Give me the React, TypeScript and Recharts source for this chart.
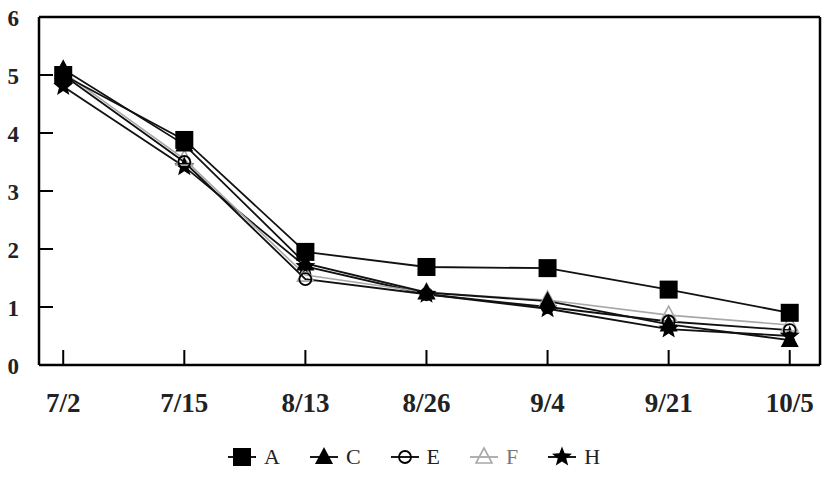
// Seasonal decline of five series (A, C, E, F, H), line chart with marker shapes
import { LineChart, Line, XAxis, YAxis, ReferenceLine } from 'recharts'

const categories = ['7/2', '7/15', '8/13', '8/26', '9/4', '9/21', '10/5']
const seriesA = [5.0, 3.88, 1.95, 1.69, 1.67, 1.3, 0.9]
const seriesC = [5.1, 3.8, 1.75, 1.25, 1.1, 0.7, 0.43]
const seriesE = [5.0, 3.5, 1.48, 1.22, 1.0, 0.75, 0.6]
const seriesF = [5.05, 3.55, 1.55, 1.25, 1.12, 0.86, 0.69]
const seriesH = [4.8, 3.42, 1.7, 1.22, 0.97, 0.62, 0.5]
const yTicks = [0, 1, 2, 3, 4, 5, 6]

const data = categories.map((c, i) => ({
  idx: i,
  label: c,
  A: seriesA[i],
  C: seriesC[i],
  E: seriesE[i],
  F: seriesF[i],
  H: seriesH[i],
}))

const FONT = '"Liberation Serif", "DejaVu Serif", serif'
const GRAY = '#a8a8a8'

type Shape = 'square' | 'tri' | 'circle' | 'otri' | 'star'

// 마커 모양 하나 그리기 (차트와 범례 공용)
function marker(shape: Shape, cx: number, cy: number, key?: any) {
  if (shape === 'square') {
    return <rect key={key} x={cx - 9} y={cy - 9} width={18} height={18} fill="#000" />
  }
  if (shape === 'tri') {
    return <polygon key={key} points={`${cx},${cy - 10} ${cx + 9},${cy + 7} ${cx - 9},${cy + 7}`} fill="#000" />
  }
  if (shape === 'otri') {
    return (
      <polygon key={key} points={`${cx},${cy - 9} ${cx + 8},${cy + 6} ${cx - 8},${cy + 6}`}
        fill="none" stroke={GRAY} strokeWidth={1.6} />
    )
  }
  if (shape === 'circle') {
    return <circle key={key} cx={cx} cy={cy} r={6} fill="none" stroke="#000" strokeWidth={1.8} />
  }
  // star
  const pts: string[] = []
  for (let k = 0; k < 10; k++) {
    const r = k % 2 === 0 ? 10.5 : 4.5
    const a = -Math.PI / 2 + (k * Math.PI) / 5
    pts.push(`${cx + r * Math.cos(a)},${cy + r * Math.sin(a)}`)
  }
  return <polygon key={key} points={pts.join(' ')} fill="#000" />
}

const dotFor = (shape: Shape) => (props: any) => {
  const { cx, cy, index } = props
  if (cx == null || cy == null) return <g key={index} />
  return marker(shape, cx, cy, index)
}

// 안쪽으로 향하는 눈금 + 라벨
const XTick = (props: any) => {
  const { x, y, payload } = props
  return (
    <g>
      <line x1={x} y1={y} x2={x} y2={y - 15} stroke="#000" strokeWidth={2} />
      <text x={x} y={y + 47} textAnchor="middle" fontFamily={FONT} fontWeight={700} fontSize={27} fill="#222">
        {categories[payload.value]}
      </text>
    </g>
  )
}

const YTick = (props: any) => {
  const { x, y, payload } = props
  return (
    <g>
      {payload.value > 0 && payload.value < 6 && (
        <line x1={x} y1={y} x2={x + 14} y2={y} stroke="#000" strokeWidth={2} />
      )}
      <text x={x - 20} y={y + 9} textAnchor="end" fontFamily={FONT} fontWeight={700} fontSize={23} fill="#222">
        {payload.value}
      </text>
    </g>
  )
}

const legendItems: { name: string; shape: Shape; color: string }[] = [
  { name: 'A', shape: 'square', color: '#000' },
  { name: 'C', shape: 'tri', color: '#000' },
  { name: 'E', shape: 'circle', color: '#000' },
  { name: 'F', shape: 'otri', color: GRAY },
  { name: 'H', shape: 'star', color: '#000' },
]

export default function App() {
  return (
    <div style={{ position: 'absolute', left: 0, top: 0, width: 828, height: 484, background: '#fff' }}>
      <LineChart width={828} height={484} data={data} margin={{ top: 17, right: 8, left: 9, bottom: 74 }}>
        <XAxis dataKey="idx" type="number" domain={[-0.2, 6.25]} allowDataOverflow ticks={[0, 1, 2, 3, 4, 5, 6]}
          height={45} tickSize={0} tickMargin={0} tick={<XTick />}
          axisLine={{ stroke: '#000', strokeWidth: 2.5 }} tickLine={false} />
        <YAxis domain={[0, 6]} ticks={yTicks} allowDataOverflow width={30} tickSize={0} tickMargin={0}
          tick={<YTick />} axisLine={{ stroke: '#000', strokeWidth: 2.5 }} tickLine={false} />
        <ReferenceLine y={6} stroke="#000" strokeWidth={2.5} />
        <ReferenceLine x={6.25} stroke="#000" strokeWidth={2.5} />
        <Line dataKey="H" stroke="#111" strokeWidth={1.8} dot={dotFor('star')} isAnimationActive={false} />
        <Line dataKey="F" stroke={GRAY} strokeWidth={1.6} dot={dotFor('otri')} isAnimationActive={false} />
        <Line dataKey="E" stroke="#111" strokeWidth={1.8} dot={dotFor('circle')} isAnimationActive={false} />
        <Line dataKey="C" stroke="#111" strokeWidth={1.8} dot={dotFor('tri')} isAnimationActive={false} />
        <Line dataKey="A" stroke="#111" strokeWidth={1.8} dot={dotFor('square')} isAnimationActive={false} />
      </LineChart>
      <div style={{ position: 'absolute', left: 228, top: 444, display: 'flex', alignItems: 'center' }}>
        {legendItems.map((it) => (
          <div key={it.name} style={{ display: 'flex', alignItems: 'center', marginRight: 30 }}>
            <svg width={28} height={26}>
              <line x1={0} y1={13} x2={28} y2={13} stroke={it.color} strokeWidth={1.8} />
              {marker(it.shape, 14, 13)}
            </svg>
            <span style={{ fontFamily: FONT, fontSize: 22, color: it.shape === 'otri' ? '#777' : '#222', marginLeft: 8 }}>
              {it.name}
            </span>
          </div>
        ))}
      </div>
    </div>
  )
}
